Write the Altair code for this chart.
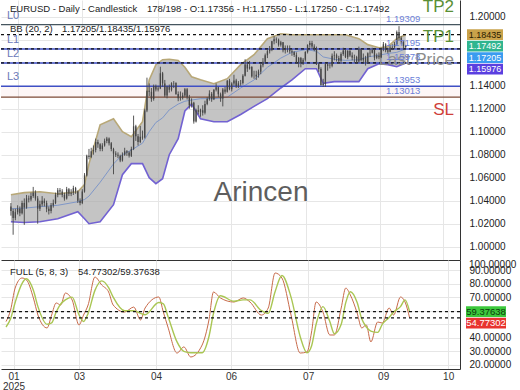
import altair as alt
import pandas as pd

# ---------------- data ----------------
OPEN = [
    1.0350, 1.0310, 1.0250, 1.0300, 1.0330, 1.0290, 1.0380, 1.0340, 1.0420, 1.0410,
    1.0440, 1.0470, 1.0420, 1.0330, 1.0370, 1.0400, 1.0380, 1.0330, 1.0310, 1.0360,
    1.0380, 1.0450, 1.0490, 1.0480, 1.0450, 1.0420, 1.0500, 1.0460, 1.0470, 1.0510,
    1.0480, 1.0400, 1.0380, 1.0480, 1.0620, 1.0790, 1.0780, 1.0830, 1.0840, 1.0910,
    1.0890, 1.0850, 1.0880, 1.0920, 1.0940, 1.0900, 1.0850, 1.0810, 1.0800, 1.0790,
    1.0750, 1.0800, 1.0830, 1.0820, 1.0790, 1.0850, 1.1047, 1.0960, 1.0910, 1.0957,
    1.0950, 1.1184, 1.1357, 1.1347, 1.1284, 1.1397, 1.1366, 1.1376, 1.1508, 1.1420,
    1.1314, 1.1390, 1.1365, 1.1422, 1.1423, 1.1328, 1.1291, 1.1297, 1.1314, 1.1370,
    1.1299, 1.1230, 1.1252, 1.1089, 1.1187, 1.1173, 1.1187, 1.1164, 1.1240, 1.1285,
    1.1331, 1.1282, 1.1364, 1.1386, 1.1325, 1.1288, 1.1368, 1.1347, 1.1443, 1.1370,
    1.1419, 1.1446, 1.1397, 1.1420, 1.1423, 1.1487, 1.1584, 1.1549, 1.1563, 1.1479,
    1.1480, 1.1495, 1.1522, 1.1578, 1.1609, 1.1665, 1.1700, 1.1719, 1.1787, 1.1803,
    1.1800, 1.1756, 1.1778, 1.1709, 1.1725, 1.1720, 1.1700, 1.1690, 1.1667, 1.1600,
    1.1640, 1.1597, 1.1626, 1.1693, 1.1753, 1.1771, 1.1741, 1.1720, 1.1587, 1.1545,
    1.1406, 1.1416, 1.1587, 1.1572, 1.1574, 1.1661, 1.1665, 1.1641, 1.1616, 1.1675,
    1.1706, 1.1648, 1.1701, 1.1663, 1.1646, 1.1649, 1.1610, 1.1718, 1.1622, 1.1642,
    1.1597, 1.1682, 1.1686, 1.1710, 1.1643, 1.1660, 1.1648, 1.1717, 1.1760, 1.1708,
    1.1695, 1.1733, 1.1735, 1.1763, 1.1867, 1.1815, 1.1785, 1.17356,
]
HIGH = [
    1.0380, 1.0330, 1.0330, 1.0360, 1.0350, 1.0400, 1.0420, 1.0450, 1.0445, 1.0470,
    1.0520, 1.0490, 1.0440, 1.0400, 1.0440, 1.0420, 1.0400, 1.0350, 1.0380, 1.0410,
    1.0470, 1.0510, 1.0510, 1.0500, 1.0470, 1.0520, 1.0510, 1.0500, 1.0530, 1.0520,
    1.0490, 1.0420, 1.0500, 1.0640, 1.0800, 1.0850, 1.0860, 1.0880, 1.0940, 1.0930,
    1.0900, 1.0900, 1.0940, 1.0955, 1.0950, 1.0910, 1.0860, 1.0830, 1.0820, 1.0800,
    1.0820, 1.0860, 1.0840, 1.0830, 1.0870, 1.1140, 1.1060, 1.0980, 1.1050, 1.1010,
    1.1200, 1.1470, 1.1420, 1.1380, 1.1410, 1.1410, 1.1400, 1.1565, 1.1520, 1.1450,
    1.1400, 1.1410, 1.1430, 1.1440, 1.1430, 1.1350, 1.1350, 1.1340, 1.1380, 1.1380,
    1.1320, 1.1290, 1.1260, 1.1200, 1.1230, 1.1200, 1.1230, 1.1270, 1.1300, 1.1360,
    1.1345, 1.1370, 1.1420, 1.1390, 1.1340, 1.1380, 1.1390, 1.1450, 1.1460, 1.1430,
    1.1495, 1.1460, 1.1440, 1.1450, 1.1500, 1.1630, 1.1610, 1.1615, 1.1570, 1.1530,
    1.1530, 1.1540, 1.1600, 1.1640, 1.1680, 1.1720, 1.1745, 1.1790, 1.1830, 1.1820,
    1.1810, 1.1790, 1.1780, 1.1750, 1.1750, 1.1750, 1.1720, 1.1700, 1.1690, 1.1650,
    1.1650, 1.1640, 1.1700, 1.1760, 1.1790, 1.1790, 1.1760, 1.1740, 1.1600, 1.1560,
    1.1460, 1.1600, 1.1600, 1.1600, 1.1680, 1.1700, 1.1680, 1.1660, 1.1690, 1.1730,
    1.1710, 1.1710, 1.1710, 1.1690, 1.1670, 1.1660, 1.1740, 1.1720, 1.1680, 1.1660,
    1.1690, 1.1720, 1.1730, 1.1720, 1.1680, 1.1690, 1.1730, 1.1780, 1.1770, 1.1730,
    1.1750, 1.1760, 1.1780, 1.1880, 1.1918, 1.1830, 1.1790, 1.17550,
]
LOW = [
    1.0270, 1.0104, 1.0230, 1.0280, 1.0265, 1.0280, 1.0190, 1.0330, 1.0385, 1.0395,
    1.0425, 1.0400, 1.0200, 1.0310, 1.0350, 1.0350, 1.0300, 1.0280, 1.0290, 1.0340,
    1.0370, 1.0430, 1.0450, 1.0430, 1.0400, 1.0410, 1.0440, 1.0440, 1.0450, 1.0460,
    1.0380, 1.0360, 1.0370, 1.0470, 1.0610, 1.0760, 1.0770, 1.0800, 1.0820, 1.0860,
    1.0830, 1.0830, 1.0870, 1.0900, 1.0880, 1.0830, 1.0630, 1.0780, 1.0770, 1.0735,
    1.0740, 1.0790, 1.0790, 1.0775, 1.0780, 1.0840, 1.0920, 1.0880, 1.0900, 1.0930,
    1.0940, 1.1170, 1.1310, 1.1260, 1.1270, 1.1350, 1.1350, 1.1370, 1.1390, 1.1300,
    1.1290, 1.1340, 1.1350, 1.1380, 1.1320, 1.1265, 1.1270, 1.1280, 1.1300, 1.1280,
    1.1200, 1.1210, 1.1070, 1.1080, 1.1150, 1.1130, 1.1140, 1.1150, 1.1230, 1.1270,
    1.1260, 1.1275, 1.1350, 1.1300, 1.1260, 1.1220, 1.1330, 1.1340, 1.1360, 1.1350,
    1.1400, 1.1380, 1.1380, 1.1400, 1.1410, 1.1480, 1.1520, 1.1540, 1.1470, 1.1460,
    1.1450, 1.1470, 1.1500, 1.1560, 1.1600, 1.1640, 1.1680, 1.1700, 1.1760, 1.1770,
    1.1740, 1.1740, 1.1690, 1.1680, 1.1690, 1.1680, 1.1660, 1.1650, 1.1590, 1.1560,
    1.1560, 1.1580, 1.1610, 1.1680, 1.1730, 1.1720, 1.1700, 1.1580, 1.1520, 1.1400,
    1.1390, 1.1390, 1.1530, 1.1550, 1.1560, 1.1620, 1.1610, 1.1590, 1.1590, 1.1660,
    1.1640, 1.1630, 1.1650, 1.1620, 1.1600, 1.1590, 1.1600, 1.1610, 1.1600, 1.1575,
    1.1590, 1.1650, 1.1680, 1.1620, 1.1630, 1.1630, 1.1640, 1.1700, 1.1690, 1.1680,
    1.1690, 1.1710, 1.1720, 1.1750, 1.1790, 1.1760, 1.1720, 1.17250,
]
CLOSE = [
    1.0310, 1.0250, 1.0300, 1.0330, 1.0290, 1.0380, 1.0340, 1.0420, 1.0410, 1.0440,
    1.0470, 1.0420, 1.0330, 1.0370, 1.0400, 1.0380, 1.0330, 1.0310, 1.0360, 1.0380,
    1.0450, 1.0490, 1.0480, 1.0450, 1.0420, 1.0500, 1.0460, 1.0470, 1.0510, 1.0480,
    1.0400, 1.0380, 1.0480, 1.0620, 1.0790, 1.0780, 1.0830, 1.0840, 1.0910, 1.0890,
    1.0850, 1.0880, 1.0920, 1.0940, 1.0900, 1.0850, 1.0810, 1.0800, 1.0790, 1.0750,
    1.0800, 1.0830, 1.0820, 1.0790, 1.0850, 1.1047, 1.0960, 1.0910, 1.0957, 1.0950,
    1.1184, 1.1357, 1.1347, 1.1284, 1.1397, 1.1366, 1.1376, 1.1508, 1.1420, 1.1314,
    1.1390, 1.1365, 1.1422, 1.1423, 1.1328, 1.1291, 1.1297, 1.1314, 1.1370, 1.1299,
    1.1230, 1.1252, 1.1089, 1.1187, 1.1173, 1.1187, 1.1164, 1.1240, 1.1285, 1.1331,
    1.1282, 1.1364, 1.1386, 1.1325, 1.1288, 1.1368, 1.1347, 1.1443, 1.1370, 1.1419,
    1.1446, 1.1397, 1.1420, 1.1423, 1.1487, 1.1584, 1.1549, 1.1563, 1.1479, 1.1480,
    1.1495, 1.1522, 1.1578, 1.1609, 1.1665, 1.1700, 1.1719, 1.1787, 1.1803, 1.1800,
    1.1756, 1.1778, 1.1709, 1.1725, 1.1720, 1.1700, 1.1690, 1.1667, 1.1600, 1.1640,
    1.1597, 1.1626, 1.1693, 1.1753, 1.1771, 1.1741, 1.1720, 1.1587, 1.1545, 1.1406,
    1.1416, 1.1587, 1.1572, 1.1574, 1.1661, 1.1665, 1.1641, 1.1616, 1.1675, 1.1706,
    1.1648, 1.1701, 1.1663, 1.1646, 1.1649, 1.1610, 1.1718, 1.1622, 1.1642, 1.1597,
    1.1682, 1.1686, 1.1710, 1.1643, 1.1660, 1.1648, 1.1717, 1.1760, 1.1708, 1.1695,
    1.1733, 1.1735, 1.1763, 1.1867, 1.1815, 1.1785, 1.1745, 1.17492,
]

# Bollinger band (20, 2) read at sample bars
BB_IDX = [0, 6, 13, 21, 30, 33, 35, 40, 46, 50, 54, 59, 62, 65, 68, 71, 75, 78, 81,
          85, 91, 97, 103, 109, 115, 121, 126, 132, 137, 140, 145, 150, 156, 160,
          165, 169, 173, 177]
BB_UP = [1.0452, 1.0470, 1.0478, 1.0461, 1.0478, 1.0540, 1.0720, 1.1060, 1.1113,
         1.1000, 1.0957, 1.1087, 1.1450, 1.1583, 1.1626, 1.1630, 1.1620, 1.1560,
         1.1478, 1.1452, 1.1417, 1.1461, 1.1583, 1.1670, 1.1809, 1.1852, 1.1843,
         1.1843, 1.1843, 1.1843, 1.1843, 1.1843, 1.1809, 1.1757, 1.1730, 1.1739,
         1.1809, 1.18435]
BB_MID = [1.0330, 1.0335, 1.0348, 1.0360, 1.0391, 1.0410, 1.0440, 1.0560, 1.0720,
          1.0800, 1.0840, 1.0900, 1.1000, 1.1080, 1.1120, 1.1190, 1.1240, 1.1265,
          1.1275, 1.1287, 1.1287, 1.1300, 1.1380, 1.1450, 1.1560, 1.1640, 1.1690,
          1.1713, 1.1700, 1.1650, 1.1630, 1.1620, 1.1626, 1.1650, 1.1665, 1.1680,
          1.1690, 1.17205]
BB_LOW = [1.0217, 1.0210, 1.0217, 1.0243, 1.0304, 1.0243, 1.0200, 1.0217, 1.0365,
          1.0626, 1.0722, 1.0722, 1.0600, 1.0548, 1.0591, 1.0800, 1.0939, 1.1180,
          1.1240, 1.1113, 1.1087, 1.1087, 1.1150, 1.1220, 1.1287, 1.1380, 1.1450,
          1.1548, 1.1548, 1.1420, 1.1435, 1.1435, 1.1435, 1.1548, 1.1591, 1.1583,
          1.1565, 1.15976]

# Full stochastic (5, 8, 3) read at sample bars
ST_IDX = [0, 2, 4, 7, 9, 12, 14, 18, 20, 22, 24, 26, 29, 32, 34, 36, 39, 42, 45, 47,
          52, 56, 59, 61, 67, 69, 71, 75, 78, 81, 86, 89, 91, 94, 100, 104, 107, 112,
          115, 118, 121, 125, 129, 132, 134, 136, 139, 142, 144, 147, 149, 151, 154,
          156, 158, 160, 163, 165, 168, 170, 173, 175, 177]
ST_K = [52, 60.5, 76.7, 84.1, 82.6, 69.4, 56.8, 47.3, 56.8, 65.7, 64.2, 73.0, 67.9,
        49.5, 56.8, 64.2, 84.8, 78.9, 73.8, 64.2, 59.0, 62.7, 53.2, 62.0, 70.1, 59.0,
        48.0, 28.8, 33.3, 25.9, 34.7, 53.2, 73.8, 69.4, 66.4, 69.4, 66.4, 56.8, 62.0,
        87.8, 84.1, 56.8, 28.8, 29.6, 44.3, 66.4, 59.0, 42.1, 42.1, 62.0, 76.7, 71.6,
        58.3, 47.3, 49.5, 37.0, 51.7, 50.9, 62.0, 56.8, 70.1, 66.4, 54.77302]
ST_D = [48, 54, 66, 80, 83.5, 75, 63, 50, 51, 59, 65, 68, 70, 57, 52, 58, 75, 82, 77,
        70, 60, 60, 58, 57, 66, 65, 56, 37, 30, 29, 29, 41, 58, 71, 67, 68, 68, 60,
        58, 74, 86, 70, 41, 29, 34, 50, 63, 52, 43, 50, 66, 74, 66, 54, 48, 45, 44,
        50, 55, 59, 63, 68, 59.37638]

X_TICKS = [3.3, 32.0, 65.8, 98.7, 132.5, 165.4, 193.9]
X_LABELS = ["01", "03", "04", "06", "07", "09", "10"]
YEAR = "2025"

LEVEL_NAMES = ["L0", "L1", "L2", "L3"]
LEVEL_VALUES = [1.19309, 1.17195, 1.15978, 1.13953]
SL_VALUE = 1.13013
PRICE_TICKS = [0.98, 1.00, 1.02, 1.04, 1.06, 1.08, 1.10, 1.12, 1.14, 1.16, 1.18, 1.20]
PRICE_HIDDEN = [1.16, 1.18]          # labels covered by the value boxes
STO_TICKS = [20, 30, 40, 50, 60, 70, 80, 90]
STO_HIDDEN = [50, 60]

SYMBOL, TIMEFRAME, CHART_TYPE = "EURUSD", "Daily", "Candlestick"
BAR_NO, BAR_TOTAL = 178, 198
BB_PARAMS = (20, 2)
STO_PARAMS = (5, 8, 3)
WATERMARK = "Arincen"

# ---------------- layout ----------------
W, H1, H2 = 459, 260, 109
X_DOMAIN = [-2.2, 199.1]
P_DOMAIN = [0.98843, 1.21452]
S_DOMAIN = [17.04, 97.37]
FONT = "Liberation Sans"

xscale = alt.Scale(domain=X_DOMAIN, nice=False, zero=False)
pscale = alt.Scale(domain=P_DOMAIN, nice=False, zero=False)
sscale = alt.Scale(domain=S_DOMAIN, nice=False, zero=False)


def hide_expr(hidden):
    cond = " || ".join(f"abs(datum.value - {h}) < 1e-6" for h in hidden)
    return f"({cond}) ? '' : datum.label"


x_axis_top = alt.Axis(values=X_TICKS, labels=False, ticks=False, domain=True,
                      domainColor="#333333", grid=True, title=None)
parts = []
for j, (v, lab) in enumerate(zip(X_TICKS, X_LABELS)):
    txt = f"['{lab}', '{YEAR}']" if j == 0 else f"'{lab}'"
    parts.append(f"abs(datum.value - {v}) < 0.5 ? {txt} : ")
label_expr = "".join(parts) + "''"
x_axis_bot = alt.Axis(values=X_TICKS, labelExpr=label_expr, ticks=False, domain=True,
                      domainColor="#333333", grid=True, title=None, labelFontSize=10,
                      labelPadding=2, labelLineHeight=10, labelOverlap=False,
                      labelFlush=False, labelColor="#333333")
y_axis_top = alt.Axis(values=PRICE_TICKS, format=".5f", orient="right", ticks=False,
                      domain=True, domainColor="#333333", grid=True, title=None,
                      labelFontSize=10, labelPadding=9, labelColor="#222222",
                      labelExpr=hide_expr(PRICE_HIDDEN))
y_axis_bot = alt.Axis(values=STO_TICKS, format=".5f", orient="right", ticks=False,
                      domain=True, domainColor="#333333", grid=True, title=None,
                      labelFontSize=10, labelPadding=9, labelColor="#222222",
                      labelExpr=hide_expr(STO_HIDDEN))


def XT(f):
    return alt.X(f"{f}:Q", scale=xscale, axis=x_axis_top)


def XB(f):
    return alt.X(f"{f}:Q", scale=xscale, axis=x_axis_bot)


def PY(f):
    return alt.Y(f"{f}:Q", scale=pscale, axis=y_axis_top)


def SY(f):
    return alt.Y(f"{f}:Q", scale=sscale, axis=y_axis_bot)


def stack(values, span, height, gap_px=11.5):
    gap = gap_px * span / height
    out = []
    for v in values:
        if out and v > out[-1] - gap:
            v = out[-1] - gap
        out.append(v)
    return out


candles = pd.DataFrame({"i": list(range(len(CLOSE))), "o": OPEN, "h": HIGH,
                        "l": LOW, "c": CLOSE})
bb = pd.DataFrame({"i": BB_IDX, "up": BB_UP, "mid": BB_MID, "lo": BB_LOW})
st = pd.DataFrame({"i": ST_IDX, "k": ST_K, "d": ST_D})

one = lambda t: pd.DataFrame({"t": [t]})

title1 = f"{SYMBOL} - {TIMEFRAME} - {CHART_TYPE}"
title2 = (f"{BAR_NO}/{BAR_TOTAL} - O:{OPEN[-1]:.5f} - H:{HIGH[-1]:.5f} - "
          f"L:{LOW[-1]:.5f} - C:{CLOSE[-1]:.5f}")
bb1 = f"BB ({BB_PARAMS[0]}, {BB_PARAMS[1]})"
bb2 = f"{BB_MID[-1]:.5f}/{BB_UP[-1]:.5f}/{BB_LOW[-1]:.5f}"
st1 = f"FULL ({STO_PARAMS[0]}, {STO_PARAMS[1]}, {STO_PARAMS[2]})"
st2 = f"{ST_K[-1]:.5f}/{ST_D[-1]:.5f}"


def ptext(text, x, y, size=9.5, color="#222222", align="left", **kw):
    return alt.Chart(one(text)).mark_text(align=align, baseline="middle", fontSize=size,
                                          color=color, font=FONT, **kw).encode(
        x=alt.value(x), y=alt.value(y), text="t:N")


# ---------------- top panel ----------------
watermark = ptext(WATERMARK, 260, 193, size=28, color="#5e5e5e", align="center")

area = alt.Chart(bb).mark_area(color="#a8a8a8", opacity=0.68).encode(
    x=XT("i"), y=PY("up"), y2="lo:Q")
sl_zone = alt.Chart(pd.DataFrame({"a": [LEVEL_VALUES[3]], "b": [SL_VALUE]})).mark_rect(
    color="#f0a8a8", opacity=0.1).encode(y=PY("a"), y2="b:Q")
up_line = alt.Chart(bb).mark_line(color="#b8a878", strokeWidth=1.6).encode(x=XT("i"), y=PY("up"))
lo_line = alt.Chart(bb).mark_line(color="#7262d2", strokeWidth=1.6).encode(x=XT("i"), y=PY("lo"))
mid_line = alt.Chart(bb).mark_line(color="#7f97c8", strokeWidth=1).encode(x=XT("i"), y=PY("mid"))

lv = pd.DataFrame({"p": LEVEL_VALUES, "name": LEVEL_NAMES})
l0_rule = alt.Chart(lv.iloc[[0]]).mark_rule(color="#46565f", strokeWidth=1.3).encode(y=PY("p"))
l_rules = alt.Chart(lv.iloc[1:]).mark_rule(color="#3f4fc4", strokeWidth=1.6).encode(y=PY("p"))
sl_rule = alt.Chart(pd.DataFrame({"p": [SL_VALUE]})).mark_rule(
    color="#7d4a36", strokeWidth=1.2).encode(y=PY("p"))
bb_dash = alt.Chart(pd.DataFrame({"p": [BB_UP[-1], BB_MID[-1], BB_LOW[-1]]})).mark_rule(
    color="#111111", strokeWidth=1.2, strokeDash=[3, 3]).encode(y=PY("p"))

last_price_txt = alt.Chart(pd.DataFrame({"p": [LEVEL_VALUES[2]], "t": ["Last Price"]})).mark_text(
    align="right", baseline="middle", fontSize=17, color="#8c8c8c", font=FONT, dy=-3).encode(
    x=alt.value(453), y=PY("p"), text="t:N")

wicks = alt.Chart(candles).mark_rule(color="#454545", strokeWidth=0.9).encode(
    x=XT("i"), y=PY("l"), y2="h:Q")
bodies = alt.Chart(candles).mark_bar(color="#454545", width=1.3).encode(
    x=XT("i"), y=PY("o"), y2="c:Q")

lname = alt.Chart(lv).mark_text(align="left", baseline="middle", fontSize=11,
                                color="#6a78b8", font=FONT, dy=-9).encode(
    x=alt.value(6), y=PY("p"), text="name:N")
vals = pd.DataFrame({"p": LEVEL_VALUES + [SL_VALUE]})
vals["t"] = [f"{v:.5f}" for v in vals["p"]]
lval = alt.Chart(vals).mark_text(align="left", baseline="middle", fontSize=9.5,
                                 color="#6c7fd8", font=FONT, dy=-6).encode(
    x=alt.value(385), y=PY("p"), text="t:N")

tp2 = alt.Chart(pd.DataFrame({"p": [LEVEL_VALUES[0]], "t": ["TP2"]})).mark_text(
    align="right", baseline="middle", fontSize=17, color="#5a8f35", font=FONT, dy=-18,
    clip=True).encode(x=alt.value(453), y=PY("p"), text="t:N")
tp1 = alt.Chart(pd.DataFrame({"p": [BB_UP[-1]], "t": ["TP1"]})).mark_text(
    align="right", baseline="middle", fontSize=17, color="#5a8f35", font=FONT, dy=2).encode(
    x=alt.value(453), y=PY("p"), text="t:N")
sl_txt = alt.Chart(pd.DataFrame({"p": [SL_VALUE], "t": ["SL"]})).mark_text(
    align="right", baseline="middle", fontSize=17, color="#cf3f3a", font=FONT, dy=13).encode(
    x=alt.value(453), y=PY("p"), text="t:N")

box_vals = [BB_UP[-1], CLOSE[-1], BB_MID[-1], BB_LOW[-1]]
boxes = pd.DataFrame({
    "v": box_vals,
    "disp": stack(box_vals, P_DOMAIN[1] - P_DOMAIN[0], H1),
    "fill": ["#c9a24a", "#2fb58f", "#3a9cf0", "#5a3fe0"],
    "tc": ["#2a2000", "#ffffff", "#ffffff", "#ffffff"],
})
boxes["t"] = [f"{v:.5f}" for v in boxes["v"]]
BOX_SHAPE = "M-1,-0.3H1V0.3H-1Z"
box_marks = alt.Chart(boxes).mark_point(shape=BOX_SHAPE, size=1296, filled=True,
                                        opacity=1, strokeWidth=0).encode(
    x=alt.value(484), y=PY("disp"), color=alt.Color("fill:N", scale=None))
box_text = alt.Chart(boxes).mark_text(align="center", baseline="middle", fontSize=9,
                                      font=FONT).encode(
    x=alt.value(484), y=PY("disp"), text="t:N", color=alt.Color("tc:N", scale=None))

top = alt.layer(
    watermark, area, sl_zone, up_line, lo_line, mid_line,
    l0_rule, l_rules, sl_rule, bb_dash, last_price_txt,
    wicks, bodies, lname, lval, tp2, tp1, sl_txt,
    ptext(title1, 9, 9), ptext(title2, 146, 9),
    ptext(bb1, 9, 29), ptext(bb2, 61, 29),
    box_marks, box_text,
).properties(width=W, height=H1)

# ---------------- bottom panel ----------------
k_line = alt.Chart(st).mark_line(color="#c86a4a", strokeWidth=1.0, interpolate="monotone").encode(
    x=XB("i"), y=SY("k"))
d_line = alt.Chart(st).mark_line(color="#a9c653", strokeWidth=1.4, interpolate="monotone").encode(
    x=XB("i"), y=SY("d"))
st_dash = alt.Chart(pd.DataFrame({"v": [ST_D[-1], ST_K[-1]]})).mark_rule(
    color="#111111", strokeWidth=1.2, strokeDash=[3, 3]).encode(y=SY("v"))

sb_vals = [ST_D[-1], ST_K[-1]]
sboxes = pd.DataFrame({
    "v": sb_vals,
    "disp": stack(sb_vals, S_DOMAIN[1] - S_DOMAIN[0], H2),
    "fill": ["#3cc83c", "#e8342f"],
    "tc": ["#0c3a0c", "#ffffff"],
})
sboxes["t"] = [f"{v:.5f}" for v in sboxes["v"]]
sbox_marks = alt.Chart(sboxes).mark_point(shape="M-1,-0.27H1V0.27H-1Z", size=1600,
                                          filled=True, opacity=1, strokeWidth=0).encode(
    x=alt.value(485), y=SY("disp"), color=alt.Color("fill:N", scale=None))
sbox_text = alt.Chart(sboxes).mark_text(align="center", baseline="middle", fontSize=9.5,
                                        font=FONT).encode(
    x=alt.value(485), y=SY("disp"), text="t:N", color=alt.Color("tc:N", scale=None))

bot = alt.layer(
    k_line, d_line, st_dash,
    ptext(st1, 9, 12), ptext(st2, 77, 12),
    ptext("100.00000", 468, 5, size=10),
    sbox_marks, sbox_text,
).properties(width=W, height=H2)

chart = alt.vconcat(top, bot, spacing=0, padding=0).configure_view(
    stroke=None).configure_axis(gridColor="#e6e6e6", gridWidth=1, labelFont=FONT)

chart.save("out.html", embed_options={"renderer": "svg", "actions": False})
